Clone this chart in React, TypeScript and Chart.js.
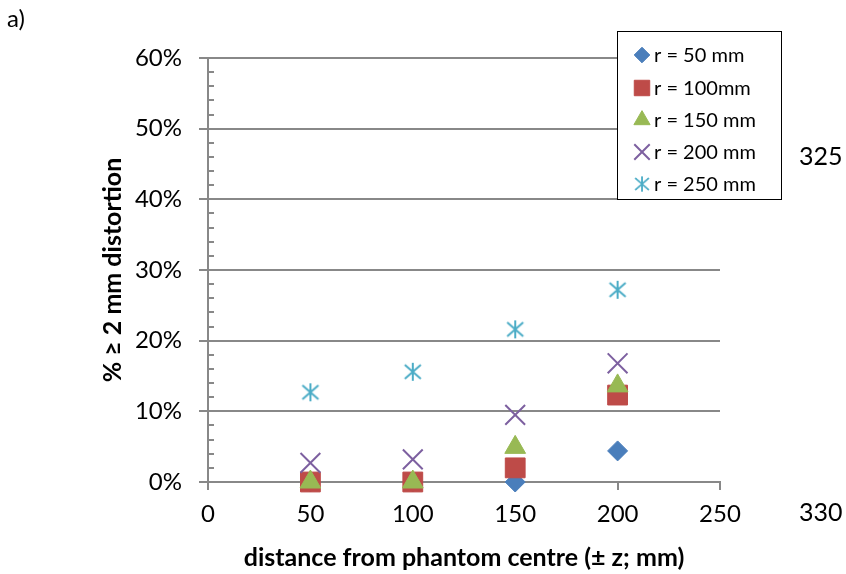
import React, { useEffect, useRef } from "react";
import { Chart, registerables } from "chart.js";
import { drawPoint } from "chart.js/helpers";

Chart.register(...registerables);

const xValues = [50, 100, 150, 200];
const r50 = [0, 0, 0, 4.4];
const r100 = [0, 0, 2.0, 12.3];
const r150 = [0, 0, 4.9, 13.6];
const r200 = [2.7, 3.2, 9.5, 16.8];
const r250 = [12.7, 15.6, 21.6, 27.2];
const seriesLabels = ["r = 50 mm", "r = 100mm", "r = 150 mm", "r = 200 mm", "r = 250 mm"];
const yTicks = [0, 10, 20, 30, 40, 50, 60];
const xTicks = [0, 50, 100, 150, 200, 250];
const FONT = "Lato, 'Open Sans', sans-serif";
const GRID = "#888888";

function makeAsterisk(color: string) {
  const c = document.createElement("canvas");
  c.width = 20;
  c.height = 20;
  const g = c.getContext("2d")!;
  g.strokeStyle = color;
  g.lineWidth = 2;
  g.beginPath();
  g.moveTo(10, 1);
  g.lineTo(10, 19);
  g.moveTo(2, 3);
  g.lineTo(18, 17);
  g.moveTo(18, 3);
  g.lineTo(2, 17);
  g.stroke();
  return c;
}

export default function App() {
  const ref = useRef<HTMLCanvasElement | null>(null);
  useEffect(() => {
    document.body.style.margin = "0";
    const star = makeAsterisk("#4bacc6");
    const mk = (vals: number[]) => vals.map((v, i) => ({ x: xValues[i], y: v }));
    const datasets: any[] = [
      { label: seriesLabels[0], data: mk(r50), pointStyle: "rectRot", pointRadius: 10, backgroundColor: "#4a7ebb", borderColor: "#4a7ebb", borderWidth: 1, order: 5, clip: false },
      { label: seriesLabels[1], data: mk(r100), pointStyle: "rect", pointRadius: 14, backgroundColor: "#be4b48", borderColor: "#be4b48", borderWidth: 1, order: 4, clip: false },
      { label: seriesLabels[2], data: mk(r150), pointStyle: "triangle", pointRadius: 12, backgroundColor: "#98b954", borderColor: "#98b954", borderWidth: 1, order: 3, clip: false },
      { label: seriesLabels[3], data: mk(r200), pointStyle: "crossRot", pointRadius: 14, backgroundColor: "#7d60a0", borderColor: "#7d60a0", borderWidth: 2, order: 2, clip: false },
      { label: seriesLabels[4], data: mk(r250), pointStyle: star, pointRadius: 10, backgroundColor: "#4bacc6", borderColor: "#4bacc6", borderWidth: 2, order: 1, clip: false },
    ];

    const extras = {
      id: "extras",
      afterDraw(chart: any) {
        const ctx = chart.ctx;
        const ys = chart.scales.y;
        const left = chart.chartArea.left;
        ctx.save();
        // minor ticks
        ctx.strokeStyle = GRID;
        ctx.lineWidth = 2;
        for (let v = 2; v < 60; v += 2) {
          if (v % 10 === 0) continue;
          const py = Math.round(ys.getPixelForValue(v));
          ctx.beginPath();
          ctx.moveTo(left, py);
          ctx.lineTo(left + 6, py);
          ctx.stroke();
        }
        // legend
        const lx = 617.5, ly = 31.5, lw = 164, lh = 168;
        ctx.fillStyle = "#ffffff";
        ctx.fillRect(lx, ly, lw, lh);
        ctx.strokeStyle = "#000000";
        ctx.lineWidth = 1;
        ctx.strokeRect(lx, ly, lw, lh);
        const rows = [55, 88, 120, 152, 184];
        chart.data.datasets.forEach((ds: any, i: number) => {
          const cy = rows[i];
          const cx = 642;
          ctx.fillStyle = ds.backgroundColor;
          ctx.strokeStyle = ds.borderColor;
          ctx.lineWidth = ds.borderWidth;
          const scale = 0.78;
          if (ds.pointStyle instanceof HTMLCanvasElement) {
            const w = ds.pointStyle.width * 0.85, h = ds.pointStyle.height * 0.85;
            ctx.drawImage(ds.pointStyle, cx - w / 2, cy - h / 2, w, h);
          } else {
            drawPoint(ctx, { pointStyle: ds.pointStyle, radius: ds.pointRadius * scale, borderWidth: ds.borderWidth, rotation: 0 } as any, cx, cy);
          }
          ctx.fillStyle = "#000000";
          ctx.font = `20px ${FONT}`;
          ctx.textAlign = "left";
          ctx.textBaseline = "middle";
          ctx.fillText(ds.label, 654, cy + 1);
        });
        // annotations
        ctx.fillStyle = "#000000";
        ctx.font = `24px ${FONT}`;
        ctx.textAlign = "left";
        ctx.textBaseline = "middle";
        ctx.fillText("a)", 7, 19);
        ctx.font = `25px ${FONT}`;
        ctx.fillText("325", 799, 157);
        ctx.fillText("330", 799, 513);
        ctx.restore();
      },
    };

    const chart = new Chart(ref.current!, {
      type: "scatter",
      data: { datasets },
      plugins: [extras],
      options: {
        animation: false,
        responsive: false,
        maintainAspectRatio: false,
        layout: { padding: { left: 98, top: 58, right: 126, bottom: 1 } },
        plugins: { legend: { display: false }, tooltip: { enabled: false } },
        scales: {
          x: {
            type: "linear",
            min: 0,
            max: 250,
            afterBuildTicks: (s: any) => { s.ticks = xTicks.map((v) => ({ value: v })); },
            afterFit: (s: any) => { s.height = 91; },
            grid: { drawOnChartArea: false, drawTicks: true, tickLength: 8, color: GRID, lineWidth: 2 },
            border: { color: GRID, width: 2 },
            ticks: { color: "#000", font: { family: FONT, size: 24 }, padding: 10, maxRotation: 0 },
            title: { display: true, text: "distance from phantom centre (± z; mm)", color: "#000", font: { family: FONT, size: 25, weight: "bold" }, padding: 0 },
          },
          y: {
            type: "linear",
            min: 0,
            max: 60,
            afterBuildTicks: (s: any) => { s.ticks = yTicks.map((v) => ({ value: v })); },
            afterFit: (s: any) => { s.width = 110; },
            grid: { drawTicks: true, tickLength: 9, color: GRID, lineWidth: 2 },
            border: { color: GRID, width: 2 },
            ticks: { color: "#000", font: { family: FONT, size: 24 }, padding: 17, callback: (v: any) => v + "%" },
            title: { display: true, text: "% ≥ 2 mm distortion", color: "#000", font: { family: FONT, size: 25, weight: "bold" }, padding: 0 },
          },
        },
      } as any,
    });
    return () => chart.destroy();
  }, []);
  return (
    <div style={{ position: "fixed", left: 0, top: 0, width: 846, height: 574, background: "#fff" }}>
      <canvas ref={ref} width={846} height={574} />
    </div>
  );
}
